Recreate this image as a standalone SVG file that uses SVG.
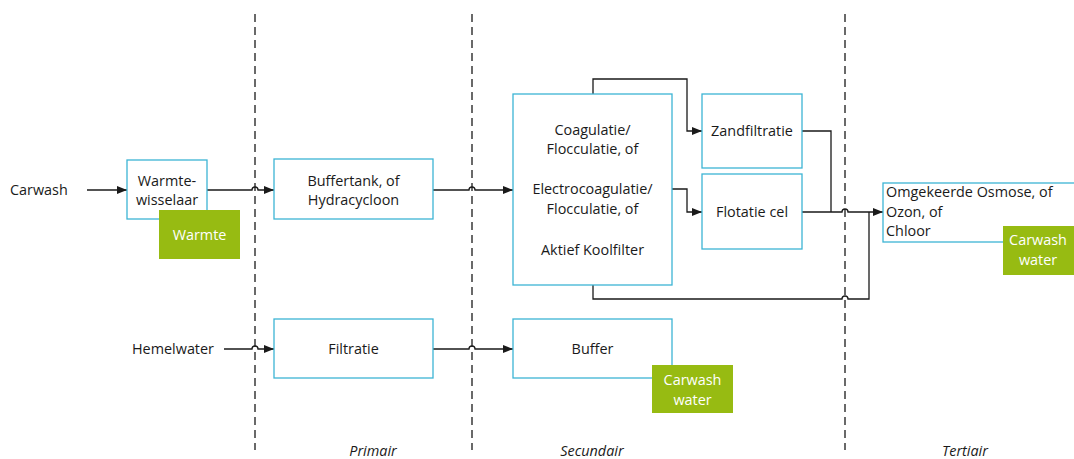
<svg xmlns="http://www.w3.org/2000/svg" width="1074" height="459" viewBox="0 0 1074 459">
  <style>
    .box { fill: #ffffff; stroke: #3cb4d4; stroke-width: 1.3; }
    .tag { fill: #97bb12; }
    .t { font-family: "Open Sans", "Liberation Sans", sans-serif; font-size: 14.4px; fill: #1a1a1a; }
    .c { text-anchor: middle; }
    .w { font-family: "Open Sans", "Liberation Sans", sans-serif; font-size: 14.4px; fill: #ffffff; text-anchor: middle; }
    .ph { font-family: "Open Sans", "Liberation Sans", sans-serif; font-size: 14.4px; font-style: italic; fill: #1a1a1a; text-anchor: middle; }
    .dash { stroke: #1a1a1a; stroke-width: 1.3; stroke-dasharray: 8 5; fill: none; }
    .ln { stroke: #1a1a1a; stroke-width: 1.3; fill: none; }
  </style>
  <defs>
    <marker id="arr" markerWidth="10" markerHeight="8" refX="10" refY="4" orient="auto" markerUnits="userSpaceOnUse">
      <path d="M0,0 L10,4 L0,8 Z" fill="#1a1a1a"/>
    </marker>
  </defs>

  <!-- phase separators -->
  <g id="separators">
    <line class="dash" x1="255" y1="14" x2="255" y2="450"/>
    <line class="dash" x1="472" y1="14" x2="472" y2="450"/>
    <line class="dash" x1="845" y1="14" x2="845" y2="450"/>
  </g>

  <!-- connectors -->
  <g id="connectors">
    <path class="ln" d="M87,190 H127" marker-end="url(#arr)"/>
    <path class="ln" d="M207,190 H252 a3,3 0 0 1 6,0 H274" marker-end="url(#arr)"/>
    <path class="ln" d="M433,190 H469 a3,3 0 0 1 6,0 H513" marker-end="url(#arr)"/>
    <path class="ln" d="M593,94 V79 H687 V131 H702" marker-end="url(#arr)"/>
    <path class="ln" d="M672,189 H687 V212 H702" marker-end="url(#arr)"/>
    <path class="ln" d="M802,131 H831 V212"/>
    <path class="ln" d="M802,212 H842 a3,3 0 0 1 6,0 H883" marker-end="url(#arr)"/>
    <path class="ln" d="M593,285 V299 H842 a3,3 0 0 1 6,0 H869 V212"/>
    <path class="ln" d="M224,349 H252 a3,3 0 0 1 6,0 H274" marker-end="url(#arr)"/>
    <path class="ln" d="M433,349 H469 a3,3 0 0 1 6,0 H513" marker-end="url(#arr)"/>
  </g>

  <g id="carwash">
    <text class="t" x="10" y="195">Carwash</text>
  </g>
  <g id="hemelwater">
    <text class="t" x="132" y="354">Hemelwater</text>
  </g>

  <g id="warmtewisselaar">
    <rect class="box" x="127" y="160" width="80" height="59"/>
    <text class="t c" x="167" y="186">Warmte-</text>
    <text class="t c" x="167" y="205">wisselaar</text>
  </g>
  <g id="warmte">
    <rect class="tag" x="159" y="210" width="81" height="49"/>
    <text class="w" x="199.5" y="240">Warmte</text>
  </g>

  <g id="buffertank">
    <rect class="box" x="274" y="159" width="159" height="60"/>
    <text class="t c" x="353.5" y="186">Buffertank, of</text>
    <text class="t c" x="353.5" y="205">Hydracycloon</text>
  </g>

  <g id="coagulatie">
    <rect class="box" x="513" y="94" width="159" height="191"/>
    <text class="t c" x="592.5" y="135">Coagulatie/</text>
    <text class="t c" x="592.5" y="154">Flocculatie, of</text>
    <text class="t c" x="592.5" y="194">Electrocoagulatie/</text>
    <text class="t c" x="592.5" y="214">Flocculatie, of</text>
    <text class="t c" x="592.5" y="255">Aktief Koolfilter</text>
  </g>

  <g id="zandfiltratie">
    <rect class="box" x="702" y="94" width="100" height="74"/>
    <text class="t c" x="752" y="136">Zandfiltratie</text>
  </g>

  <g id="flotatie">
    <rect class="box" x="702" y="174" width="100" height="75"/>
    <text class="t c" x="752" y="217">Flotatie cel</text>
  </g>

  <g id="omgekeerde-osmose">
    <rect class="box" x="883" y="183" width="200" height="59"/>
    <text class="t" x="886" y="197">Omgekeerde Osmose, of</text>
    <text class="t" x="886" y="217">Ozon, of</text>
    <text class="t" x="886" y="236">Chloor</text>
  </g>
  <g id="carwash-water-tertiair">
    <rect class="tag" x="1003" y="226" width="80" height="49"/>
    <text class="w" x="1038" y="245">Carwash</text>
    <text class="w" x="1038" y="265">water</text>
  </g>

  <g id="filtratie">
    <rect class="box" x="274" y="319" width="159" height="59"/>
    <text class="t c" x="353.5" y="354">Filtratie</text>
  </g>

  <g id="buffer">
    <rect class="box" x="513" y="319" width="159" height="59"/>
    <text class="t c" x="592.5" y="354">Buffer</text>
  </g>
  <g id="carwash-water-secundair">
    <rect class="tag" x="652" y="365" width="81" height="48"/>
    <text class="w" x="692.5" y="385">Carwash</text>
    <text class="w" x="692.5" y="405">water</text>
  </g>

  <g id="phase-labels">
    <text class="ph" x="373" y="456">Primair</text>
    <text class="ph" x="592" y="456">Secundair</text>
    <text class="ph" x="965" y="456">Tertiair</text>
  </g>
</svg>
